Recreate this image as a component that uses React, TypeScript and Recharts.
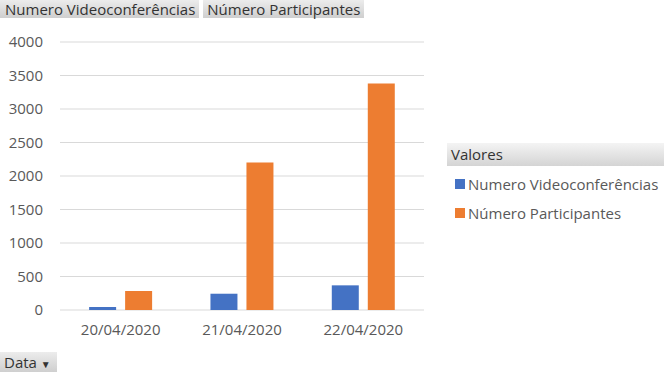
import { BarChart, Bar, XAxis, YAxis, CartesianGrid } from "recharts";

const DATES = ["20/04/2020", "21/04/2020", "22/04/2020"];
const VIDEOCONF = [45, 243, 368];
const PARTICIPANTES = [283, 2200, 3380];
const Y_TICKS = [0, 500, 1000, 1500, 2000, 2500, 3000, 3500, 4000];

const SERIES = [
  { key: "videoconf", name: "Numero Videoconferências", color: "#4472C4" },
  { key: "participantes", name: "Número Participantes", color: "#ED7D31" },
];

const data = DATES.map((d, i) => ({
  date: d,
  videoconf: VIDEOCONF[i],
  participantes: PARTICIPANTES[i],
}));

const FONT = "'Open Sans', 'Noto Sans', sans-serif";
const btnBg = "linear-gradient(#ececec, #cfcfcf)";

export default function App() {
  return (
    <div style={{ position: "fixed", left: 0, top: 0, width: 672, height: 372, background: "#fff", fontFamily: FONT, overflow: "hidden" }}>
      <BarChart
        width={672}
        height={372}
        data={data}
        margin={{ top: 42, right: 248, left: 0, bottom: 32 }}
        barCategoryGap="24%"
        barGap={9}
      >
        <CartesianGrid vertical={false} stroke="#d9d9d9" />
        <XAxis
          dataKey="date"
          axisLine={false}
          tickLine={false}
          tickSize={0}
          tickMargin={14}
          height={30}
          tick={{ fill: "#595959", fontSize: 15, fontFamily: FONT }}
        />
        <YAxis
          domain={[0, 4000]}
          ticks={Y_TICKS}
          axisLine={false}
          tickLine={false}
          tickSize={0}
          tickMargin={17}
          width={60}
          tick={{ fill: "#595959", fontSize: 15, fontFamily: FONT }}
        />
        {SERIES.map((s) => (
          <Bar key={s.key} dataKey={s.key} name={s.name} fill={s.color} isAnimationActive={false} />
        ))}
      </BarChart>

      {/* legend box, Excel pivot style */}
      <div style={{ position: "absolute", left: 447, top: 143, width: 217, fontSize: 15 }}>
        <div style={{ height: 23, lineHeight: "23px", background: "linear-gradient(#f4f4f4, #d4d4d4)", color: "#333", paddingLeft: 4 }}>
          Valores
        </div>
        <div style={{ height: 3 }} />
        {SERIES.map((s) => (
          <div key={s.key} style={{ display: "flex", alignItems: "center", height: 29, marginLeft: 8, color: "#595959" }}>
            <span style={{ width: 10, height: 10, background: s.color, marginRight: 3, display: "inline-block" }} />
            {s.name}
          </div>
        ))}
      </div>

      <div style={{ position: "absolute", left: 0, top: 0, height: 18, lineHeight: "18px", display: "flex", gap: 4, fontSize: 15, color: "#333" }}>
        <div style={{ background: btnBg, padding: "0 4px 0 5px" }}>Numero Videoconferências</div>
        <div style={{ background: btnBg, padding: "0 4px" }}>Número Participantes</div>
      </div>

      <div style={{ position: "absolute", left: 0, top: 352, height: 20, lineHeight: "20px", width: 57, background: btnBg, fontSize: 15, color: "#333", paddingLeft: 4, boxSizing: "border-box" }}>
        Data <span style={{ fontSize: 10 }}>▼</span>
      </div>
    </div>
  );
}
